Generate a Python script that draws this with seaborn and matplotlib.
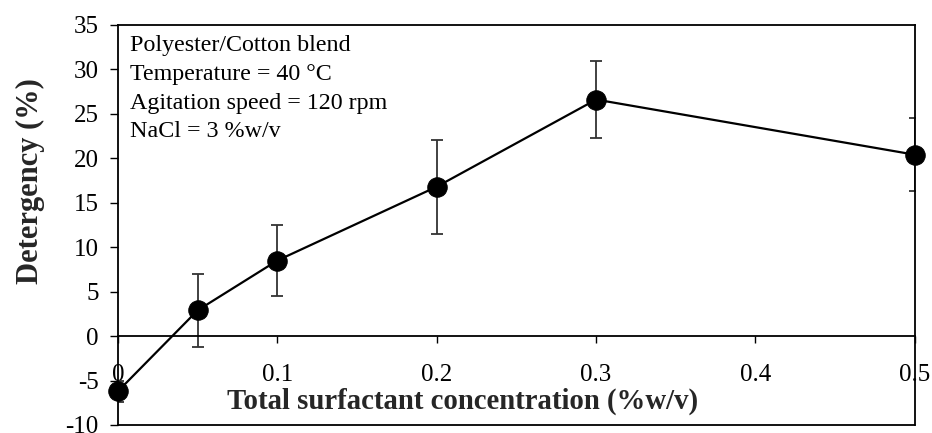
import matplotlib
matplotlib.use("Agg")
import matplotlib.pyplot as plt
import seaborn as sns
import pandas as pd

concentration = [0.0, 0.05, 0.1, 0.2, 0.3, 0.5]
detergency = [-6.2, 2.9, 8.5, 16.8, 26.6, 20.4]
error = [1.2, 4.1, 4.0, 5.3, 4.3, 4.1]
x_ticks = [0, 0.1, 0.2, 0.3, 0.4, 0.5]
x_tick_labels = ["0", "0.1", "0.2", "0.3", "0.4", "0.5"]
y_ticks = [-10, -5, 0, 5, 10, 15, 20, 25, 30, 35]
annotation_lines = ["Polyester/Cotton blend", "Temperature = 40 \u00b0C",
                    "Agitation speed = 120 rpm", "NaCl = 3 %w/v"]

sns.set_style("white")
plt.rcParams['font.family'] = ['Liberation Serif', 'DejaVu Serif']
plt.rcParams['axes.unicode_minus'] = False

df = pd.DataFrame({"conc": concentration, "det": detergency})

fig = plt.figure(figsize=(9.32, 4.33), dpi=100)
ax = fig.add_axes([0.1266, 0.0185, 0.855, 0.924])

ax.errorbar(concentration, detergency, yerr=error, fmt="none", ecolor="#333333",
            elinewidth=1.3, capsize=4.3, capthick=1.3, zorder=2)
sns.lineplot(data=df, x="conc", y="det", ax=ax, color="black", linewidth=1.6,
             marker="o", markersize=14, markeredgecolor="black",
             markerfacecolor="black", zorder=3, clip_on=False)

ax.set_xlim(0, 0.5)
ax.set_ylim(-10, 35)
ax.set_yticks(y_ticks)
ax.set_xticks(x_ticks)
ax.set_xticklabels(x_tick_labels)

for s in ax.spines.values():
    s.set_color("black")
    s.set_linewidth(1.3)
    s.set_visible(True)
ax.spines['bottom'].set_position(('data', 0))
ax.axhline(-10, color="black", linewidth=1.3, clip_on=False, zorder=1)

ax.tick_params(axis="y", direction="out", length=6, width=1, labelsize=18,
               left=True, pad=8, colors="black")
ax.tick_params(axis="x", direction="out", length=5, width=1, labelsize=18,
               bottom=True, pad=15, colors="black")

ax.set_xlabel("Total surfactant concentration (%w/v)", fontsize=20.7,
              fontweight="bold")
ax.xaxis.set_label_coords(0.432, 0.06)
ax.xaxis.label.set_va("center")
ax.set_ylabel("Detergency (%)", fontsize=22, fontweight="bold")
ax.yaxis.set_label_coords(-0.110, 0.61)
ax.yaxis.label.set_va("center")

line_y = [0.9475, 0.875, 0.8025, 0.7325]
for yy, line in zip(line_y, annotation_lines):
    ax.text(0.015, yy, line, transform=ax.transAxes,
            fontsize=17.3, va="center", ha="left", color="black")

fig.savefig("out.png", dpi=100)
